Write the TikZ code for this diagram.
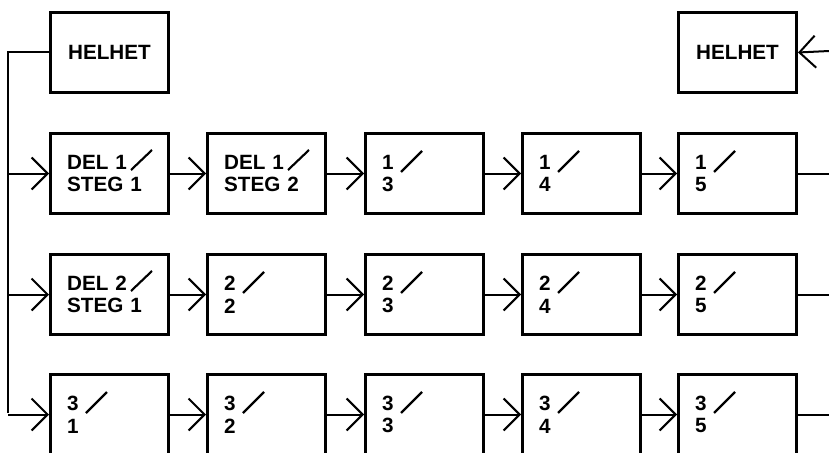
\documentclass[tikz,border=0pt]{standalone}
\usepackage{fontspec}
\setmainfont{Liberation Sans}
\usetikzlibrary{arrows.meta,calc}
\begin{document}
\begin{tikzpicture}[x=0.75pt,y=-0.75pt,
  box/.style={draw,line width=2.25pt,anchor=north west,minimum width=88.5pt,minimum height=60pt,
    inner xsep=12.5pt,inner ysep=0pt,text width=63.5pt,align=left,
    font=\fontsize{15.5}{17}\selectfont\bfseries},
  hbox/.style={box,align=center},
  conn/.style={line width=1.5pt},
  arr/.style={conn,-{Straight Barb[length=12pt,width=24pt]}},
  slashline/.style={line width=1.6pt}]
\useasboundingbox (0,0) rectangle (829,453);
% top boxes
\node[hbox] (H1) at (49,11) {HELHET};
\node[hbox] (H2) at (677,11) {HELHET};
% row 1
\node[box] (b11) at (49,132)  {DEL 1\\STEG 1};
\node[box] (b12) at (206,132) {DEL 1\\STEG 2};
\node[box] (b13) at (364,132) {1\\3};
\node[box] (b14) at (521,132) {1\\4};
\node[box] (b15) at (677,132) {1\\5};
% row 2
\node[box] (b21) at (49,253)  {DEL 2\\STEG 1};
\node[box] (b22) at (206,253) {2\\2};
\node[box] (b23) at (364,253) {2\\3};
\node[box] (b24) at (521,253) {2\\4};
\node[box] (b25) at (677,253) {2\\5};
% row 3
\node[box] (b31) at (49,373)  {3\\1};
\node[box] (b32) at (206,373) {3\\2};
\node[box] (b33) at (364,373) {3\\3};
\node[box] (b34) at (521,373) {3\\4};
\node[box] (b35) at (677,373) {3\\5};
% slashes
\foreach \n in {b11,b12,b21}
  \draw[slashline] ($(\n.north west)+(82,38)$) -- ++(21,-20);
\foreach \n in {b13,b14,b15,b22,b23,b24,b25,b31,b32,b33,b34,b35}
  \draw[slashline] ($(\n.north west)+(37,40)$) -- ++(21,-21);
% left feed
\coordinate (L) at (8,413);
\draw[conn] (H1.west) -| (L);
\foreach \r in {1,2,3}
  \draw[arr] (b\r1.west -| L) -- (b\r1.west);
% row chains
\foreach \r in {1,2,3}
  \foreach \c [count=\cc from 2] in {1,...,4}
    \draw[arr] (b\r\c.east) -- (b\r\cc.west);
% right side
\coordinate (R) at (829,51);
\draw[arr] (R) -- (H2.east);
\foreach \r in {1,2,3}
  \draw[conn] (b\r5.east) -- (b\r5.east -| R);
\end{tikzpicture}
\end{document}
